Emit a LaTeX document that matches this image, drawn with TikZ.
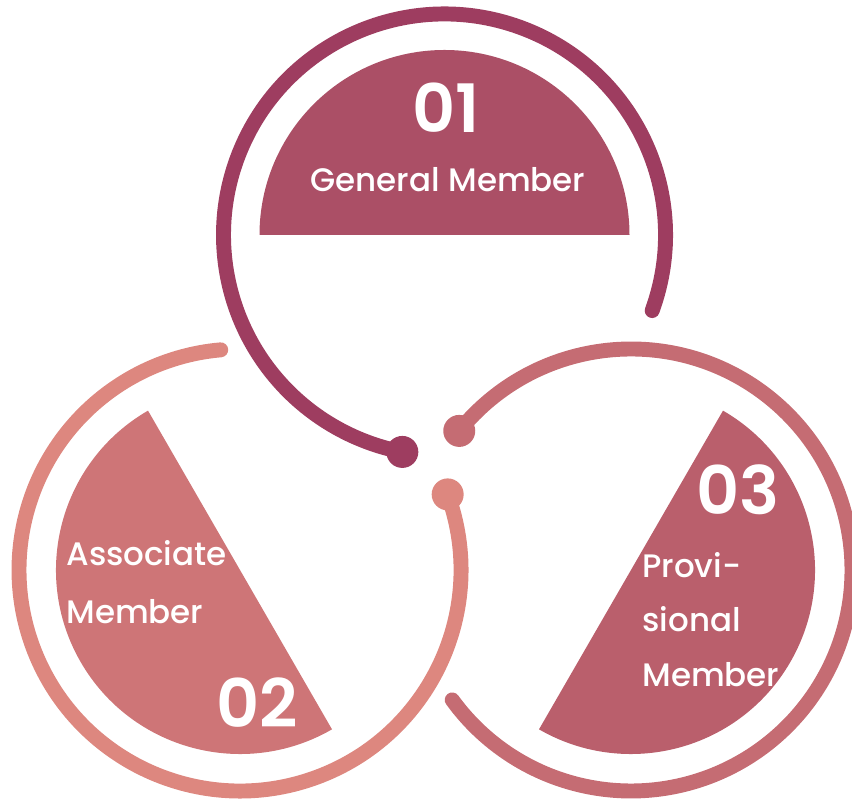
\documentclass[tikz,border=0pt]{standalone}
\usepackage{fontspec}
\setmainfont{Poppins}[UprightFont={* Medium},BoldFont={* SemiBold}]
\definecolor{ringone}{HTML}{9E3D60}
\definecolor{fillone}{HTML}{AB4F66}
\definecolor{ringtwo}{HTML}{DD877F}
\definecolor{filltwo}{HTML}{CE7577}
\definecolor{ringthree}{HTML}{C56C73}
\definecolor{fillthree}{HTML}{BA5F6C}
\begin{document}
\begin{tikzpicture}[x=0.02cm,y=0.02cm,
  ring/.style={line width=8.5pt,line cap=round},
  num/.style={text=white,font=\fontsize{38}{38}\selectfont\bfseries,inner sep=0pt,anchor=base},
  lbl/.style={text=white,font=\fontsize{18.5}{32}\selectfont,inner sep=0pt,align=left}]
 \useasboundingbox (0,0) rectangle (852,800);
 \coordinate (c1) at (444.5,565);
 \coordinate (c2) at (240,230);
 \coordinate (c3) at (631,230);
 % 01
 \fill[fillone] (c1) ++(0:185) arc[start angle=0,end angle=180,radius=185] -- cycle;
 \draw[ring,ringone] (c1) ++(-20:221) arc[start angle=-20,end angle=259,radius=221] coordinate (d1);
 \fill[ringone] (d1) circle (16);
 % 02
 \fill[filltwo] (c2) ++(120:184) arc[start angle=120,end angle=300,radius=184] -- cycle;
 \draw[ring,ringtwo] (c2) ++(20:221) coordinate (d2) arc[start angle=20,end angle=-265,radius=221];
 \fill[ringtwo] (d2) circle (16);
 % 03
 \fill[fillthree] (c3) ++(-120:184) arc[start angle=-120,end angle=60,radius=184] -- cycle;
 \draw[ring,ringthree] (c3) ++(141:221) coordinate (d3) arc[start angle=141,end angle=-144,radius=221];
 \fill[ringthree] (d3) circle (16);
 % texts
 \node[num] (n1) at (446,667) {01};
 \node[lbl,anchor=base] (t1) at (448,608) {General Member};
 \node[num] (n2) at (257,72) {02};
 \node[lbl,anchor=north west,font=\fontsize{18.5}{33}\selectfont] (t2) at (66,260) {Associate\\Member};
 \node[num] (n3) at (738,285) {03};
 \node[lbl,anchor=north west,font=\fontsize{18.5}{31}\selectfont] (t3) at (642,248) {Provi-\\sional\\Member};
\end{tikzpicture}
\end{document}
